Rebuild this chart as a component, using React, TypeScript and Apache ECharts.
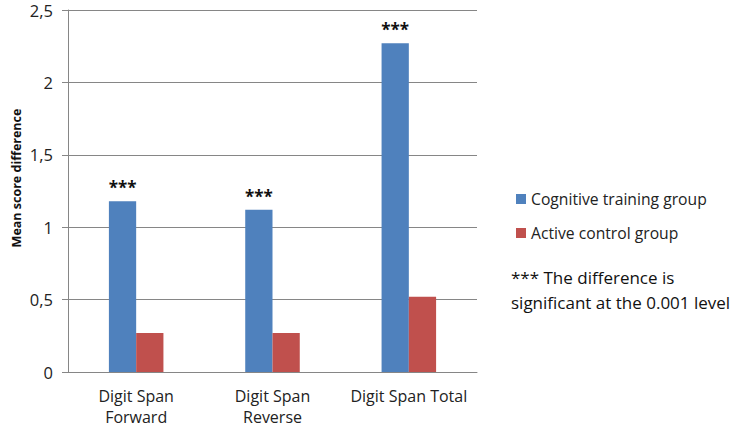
import React, { useEffect, useRef } from "react";
import * as echarts from "echarts";

const categories = ["Digit Span\nForward", "Digit Span\nReverse", "Digit Span Total"];
const seriesNames = ["Cognitive training group", "Active control group"];
const cognitiveValues = [1.18, 1.12, 2.27];
const controlValues = [0.27, 0.27, 0.52];
const significance = ["***", "***", "***"];
const yTickLabels = ["0", "0,5", "1", "1,5", "2", "2,5"];
const yAxisTitle = "Mean score difference";
const noteLines = ["*** The difference is", "significant at the 0.001 level"];

const FONT = "'Open Sans', sans-serif";

export default function App() {
  const ref = useRef<HTMLDivElement>(null);
  useEffect(() => {
    if (!ref.current) return;
    const chart = echarts.init(ref.current, undefined, { renderer: "svg" });
    chart.setOption({
      animation: false,
      backgroundColor: "#ffffff",
      textStyle: { fontFamily: FONT },
      grid: { left: 68, right: 258, top: 10, bottom: 57, containLabel: false },
      legend: {
        orient: "vertical",
        left: 511,
        top: 186,
        itemWidth: 10,
        itemHeight: 10,
        itemGap: 18,
        icon: "rect",
        selectedMode: false,
        textStyle: { fontFamily: FONT, fontSize: 15.7, color: "#222" },
        data: seriesNames,
      },
      xAxis: {
        type: "category",
        data: categories,
        axisLine: { lineStyle: { color: "#868686" } },
        axisTick: { show: false },
        axisLabel: {
          interval: 0,
          fontFamily: FONT,
          fontSize: 16,
          color: "#222",
          margin: 13,
          lineHeight: 21,
        },
      },
      yAxis: {
        type: "value",
        min: 0,
        max: 2.5,
        interval: 0.5,
        axisLine: { show: true, lineStyle: { color: "#868686" } },
        axisTick: { show: true, length: 6, lineStyle: { color: "#868686" } },
        splitLine: { lineStyle: { color: "#868686" } },
        axisLabel: {
          fontFamily: FONT,
          fontSize: 16.5,
          color: "#222",
          margin: 15,
          formatter: (v: number) => yTickLabels[Math.round(v / 0.5)] ?? String(v),
        },
      },
      series: [
        {
          name: seriesNames[0],
          type: "bar",
          data: cognitiveValues,
          barWidth: "20%",
          barGap: "0%",
          itemStyle: { color: "#4F81BD" },
          label: {
            show: true,
            position: "top",
            distance: 5,
            fontFamily: FONT,
            fontSize: 17,
            fontWeight: "bold",
            color: "#111",
            formatter: (p: any) => significance[p.dataIndex],
          },
        },
        {
          name: seriesNames[1],
          type: "bar",
          data: controlValues,
          barWidth: "20%",
          barGap: "0%",
          itemStyle: { color: "#C0504D" },
        },
      ],
      graphic: [
        {
          type: "text",
          x: 16,
          y: 178,
          rotation: Math.PI / 2,
          style: {
            text: yAxisTitle,
            fontFamily: FONT,
            fontSize: 12.5,
            fontWeight: "bold",
            fill: "#111",
            align: "center",
            verticalAlign: "middle",
          },
        },
        {
          type: "text",
          left: 511,
          top: 265,
          style: {
            text: noteLines.join("\n"),
            fontFamily: FONT,
            fontSize: 17,
            lineHeight: 25,
            fill: "#111",
          },
        },
      ],
    });
    return () => chart.dispose();
  }, []);
  return <div ref={ref} style={{ width: 735, height: 429, position: "absolute", left: 0, top: 0 }} />;
}
